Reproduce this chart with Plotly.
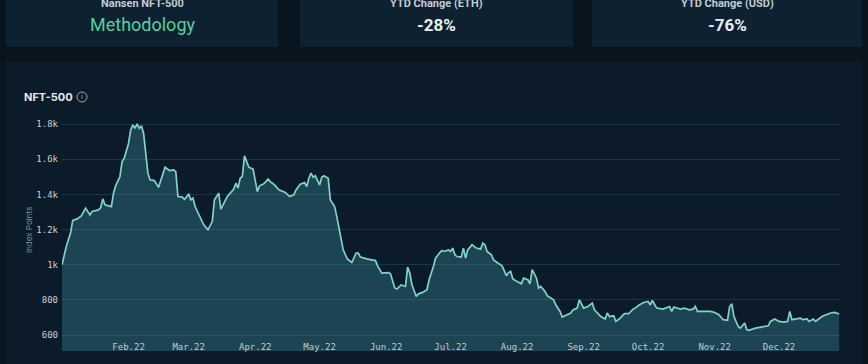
import plotly.graph_objects as go
import pandas as pd

# ---- data ----
day_offsets = [0, 2, 4, 5, 7, 9, 11, 13, 14, 17, 18, 19, 20, 22, 23, 24, 25, 27, 28, 29,
               31, 32, 33, 34, 35, 36, 37, 38, 39, 40, 41, 43, 45, 47, 48, 50, 52, 53, 54, 56,
               57, 58, 59, 60, 61, 62, 64,
               65, 66, 68, 69, 70, 71, 72, 73, 74, 76, 77, 79, 80, 81, 82, 83, 84, 85, 86, 87,
               89, 90, 91, 92, 94, 95, 96, 97, 99, 101, 104, 106, 108, 109, 110, 111, 113, 114, 115, 116,
               117, 118, 120, 121, 122, 124, 125, 127, 128, 130, 131, 132,
               133, 135, 137, 138, 139, 142, 144, 146, 147, 149, 152, 153, 155, 156, 158, 160, 161, 162, 163, 165,
               166, 168, 170, 171, 173, 174, 176, 177, 178, 180, 181, 182, 183, 184, 186, 187, 188, 189, 191, 192,
               193, 195, 196, 197, 198, 200, 201, 203, 205, 207, 208, 209, 210, 212, 213, 214, 215, 217, 218, 219,
               221, 222, 223, 225, 226, 229, 230, 232, 233, 235, 237, 238, 240, 241, 243, 245, 247, 248, 250,
               251, 253, 254, 255, 257, 258, 260, 262, 264, 266, 267, 269, 271, 273, 274, 275, 277, 280, 281, 283,
               284, 285, 288, 290, 292, 294, 295, 296, 298, 300, 302, 304, 306, 308, 310, 311, 312, 313, 315, 316,
               318, 319, 320, 323, 325, 327, 329, 330, 332, 334, 336, 338, 339, 340, 342, 344, 345, 347, 348, 350,
               351, 353, 354, 356, 358, 360, 362]

index_points = [1000, 1104, 1182, 1252, 1261, 1278, 1322, 1284, 1303, 1312, 1324, 1375, 1341, 1337, 1331, 1407, 1449, 1502, 1587, 1606,
                1691, 1767, 1795, 1776, 1801, 1776, 1790, 1748, 1615, 1521, 1483, 1479, 1441, 1521, 1555, 1536, 1540, 1530, 1388, 1385,
                1373, 1385, 1403, 1369, 1379, 1331, 1274,
                1256, 1227, 1199, 1222, 1246, 1369, 1388, 1407, 1316, 1360, 1388, 1416, 1430, 1464, 1436, 1492, 1502, 1619, 1587, 1555,
                1544, 1483, 1416, 1449, 1460, 1473, 1487, 1473, 1454, 1426, 1411, 1388, 1398, 1426, 1445, 1458, 1467, 1445, 1492, 1521,
                1498, 1506, 1454, 1498, 1506, 1492, 1369, 1331, 1274, 1161, 1085, 1057,
                1032, 1013, 1066, 1066, 1044, 1034, 1028, 1024, 994, 953, 956, 949, 868, 862, 886, 877, 987, 953, 886, 820,
                835, 843, 858, 915, 990, 1038, 1070, 1081, 1076, 1085, 1076, 1095, 1057, 1047, 1044, 1095, 1038, 1085, 1114, 1104,
                1095, 1089, 1123, 1114, 1076, 1057, 1028, 1010, 994, 938, 956, 962, 919, 905, 896, 892, 924, 915, 892, 972,
                924, 868, 877, 848, 824, 801, 773, 735, 703, 716, 726, 744, 754, 801, 754, 763, 782, 744, 722,
                706, 692, 726, 706, 710, 678, 697, 722, 722, 748, 754, 773, 786, 792, 773, 797, 754, 748, 754, 763,
                735, 760, 748, 754, 744, 748, 763, 735, 735, 735, 735, 729, 716, 688, 684, 763, 778, 706, 649, 640,
                669, 631, 627, 640, 644, 649, 653, 678, 692, 678, 674, 678, 735, 688, 692, 697, 688, 692, 678, 692,
                678, 697, 706, 716, 726, 729, 720]

month_starts = ["2022-02-01", "2022-03-01", "2022-04-01", "2022-05-01", "2022-06-01", "2022-07-01",
                "2022-08-01", "2022-09-01", "2022-10-01", "2022-11-01", "2022-12-01"]
month_labels = ["Feb.22", "Mar.22", "Apr.22", "May.22", "Jun.22", "Jul.22",
                "Aug.22", "Sep.22", "Oct.22", "Nov.22", "Dec.22"]
y_ticks = [600, 800, 1000, 1200, 1400, 1600, 1800]
y_labels = ["600", "800", "1k", "1.2k", "1.4k", "1.6k", "1.8k"]

cards = [("Nansen NFT-500", "Methodology"), ("YTD Change (ETH)", "-28%"), ("YTD Change (USD)", "-76%")]

# ---- layout geometry ----
W, H = 868, 364
L, R, T, B = 62, 840, 110, 351

def px(x):
    return (x - L) / (R - L)

def py(y):
    return (B - y) / (B - T)

start = pd.Timestamp("2022-01-01")
dates = start + pd.to_timedelta(day_offsets, unit="D")
x_end = start + pd.Timedelta(days=362.4)

fig = go.Figure()
fig.add_trace(go.Scatter(
    x=dates, y=index_points, mode="lines",
    line=dict(color="#80d3c8", width=1.7),
    fill="tozeroy", fillcolor="rgba(70,165,175,0.30)",
    hoverinfo="skip", showlegend=False,
))

shapes = []
# chart panel
shapes.append(dict(type="rect", xref="paper", yref="paper", layer="below",
                   x0=px(6), x1=px(862), y0=py(62), y1=py(366),
                   fillcolor="#0b1b2a", line=dict(width=0)))
# top cards
card_bounds = [(6, 278), (300, 573), (592, 862)]
for (a, b) in card_bounds:
    shapes.append(dict(type="rect", xref="paper", yref="paper", layer="below",
                       x0=px(a), x1=px(b), y0=py(47), y1=py(-2),
                       fillcolor="#0e2131", line=dict(width=0)))
# info icon circle
shapes.append(dict(type="circle", xref="paper", yref="paper",
                   x0=px(77), x1=px(87), y0=py(102), y1=py(92),
                   line=dict(color="#9aa6b2", width=1)))

annotations = []
for (label, value), (a, b) in zip(cards, card_bounds):
    cx = (a + b) / 2
    annotations.append(dict(text="<b>" + label + "</b>", x=px(cx), y=py(3), xref="paper", yref="paper",
                            showarrow=False, xanchor="center", yanchor="middle",
                            font=dict(family="Roboto", size=11, color="#c3cbd3")))
    if value == "Methodology":
        vtext, vcolor, vsize = value, "#52d19e", 18
    else:
        vtext, vcolor, vsize = "<b>" + value + "</b>", "#e9eef2", 17
    annotations.append(dict(text=vtext, x=px(cx), y=py(25), xref="paper", yref="paper",
                            showarrow=False, xanchor="center", yanchor="middle",
                            font=dict(family="Roboto", size=vsize, color=vcolor)))

annotations.append(dict(text="<b>NFT-500</b>", x=px(22), y=py(97), xref="paper", yref="paper",
                        showarrow=False, xanchor="left", yanchor="middle",
                        font=dict(family="Inter", size=11, color="#e4eaef")))
annotations.append(dict(text="i", x=px(82), y=py(97), xref="paper", yref="paper",
                        showarrow=False, xanchor="center", yanchor="middle",
                        font=dict(family="DejaVu Sans", size=7, color="#9aa6b2")))
annotations.append(dict(text="Index Points", x=px(29), y=py(230), xref="paper", yref="paper",
                        showarrow=False, xanchor="center", yanchor="middle", textangle=-90,
                        font=dict(family="Inter", size=8, color="#7891a5")))

fig.update_layout(
    width=W, height=H,
    margin=dict(l=L, r=W - R, t=T, b=H - B, pad=0),
    paper_bgcolor="#08151f",
    plot_bgcolor="rgba(0,0,0,0)",
    shapes=shapes,
    annotations=annotations,
    showlegend=False,
    xaxis=dict(
        type="date", range=[start, x_end],
        tickvals=month_starts, ticktext=month_labels,
        ticklabelposition="inside", ticks="", ticklabelstandoff=-4,
        showgrid=False, zeroline=False, showline=False,
        tickfont=dict(family="DejaVu Sans Mono", size=9, color="#c3cbd3"),
        fixedrange=True,
    ),
    yaxis=dict(
        range=[510, 1880],
        tickvals=y_ticks, ticktext=y_labels, ticks="", ticklabelstandoff=3,
        showgrid=True, gridcolor="#1d3446", gridwidth=1,
        zeroline=False, showline=False,
        tickfont=dict(family="DejaVu Sans Mono", size=9, color="#c9d0d7"),
        fixedrange=True,
    ),
)

fig.write_html("out.html", config={"displayModeBar": False},
               post_script="document.body.style.margin='0';document.body.style.background='#08151f';")
